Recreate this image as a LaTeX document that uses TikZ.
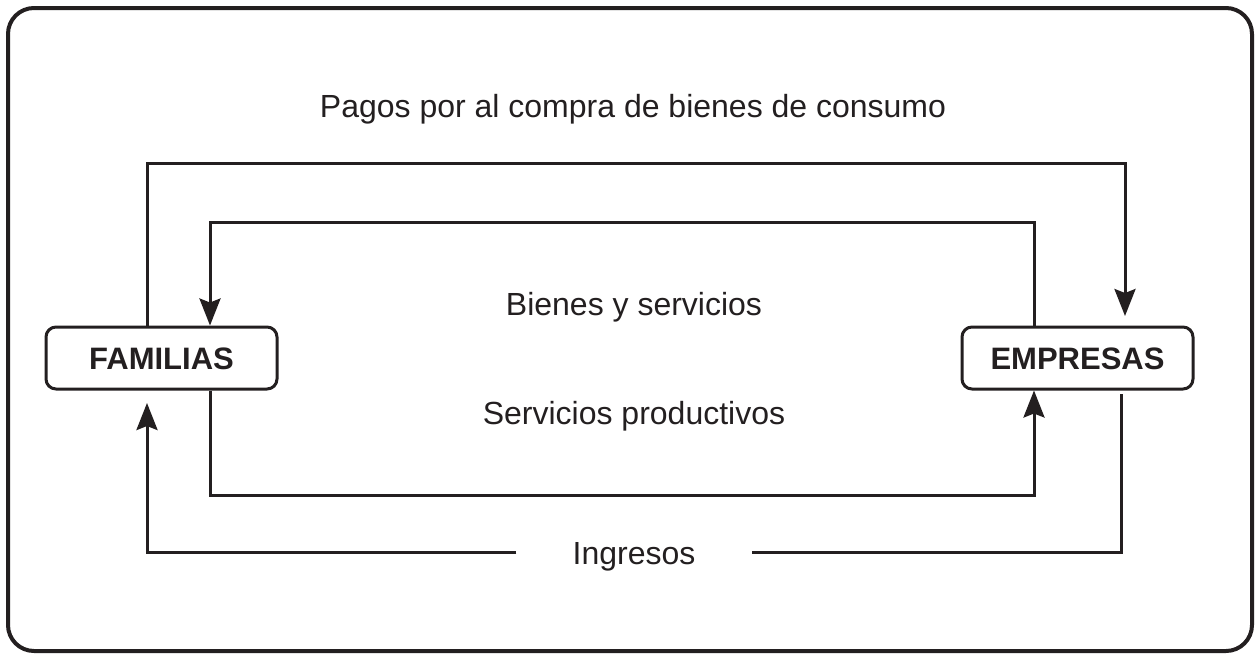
\documentclass[tikz,border=0pt]{standalone}
\usepackage{fontspec}
\setmainfont{Liberation Sans}
\usetikzlibrary{arrows.meta}
\definecolor{ink}{HTML}{231F20}
\tikzset{
  flow/.style={draw=ink, line width=3pt},
  arr/.style={flow, -{Stealth[length=27pt,width=21pt,inset=4pt]}},
  agent/.style={draw=ink, line width=3pt, rounded corners=10pt, minimum width=231pt, minimum height=62pt,
    text height=23pt, text depth=0pt, inner sep=0pt, font=\fontsize{31}{36}\selectfont\bfseries, text=ink},
  lbl/.style={text height=23pt, text depth=0pt, inner sep=0pt, font=\fontsize{32}{38}\selectfont, text=ink}
}
\begin{document}
\begin{tikzpicture}[x=1pt,y=-1pt]
\useasboundingbox (0,0) rectangle (1259,657);
\draw[ink, line width=4pt, rounded corners=26pt] (8,8) rectangle (1252,651);

\node[agent] (fam) at (161.5,358) {FAMILIAS};
\node[agent] (emp) at (1077.5,358) {EMPRESAS};

\node[lbl] (pagos) at (633,106) {Pagos por al compra de bienes de consumo};
\node[lbl] (bys) at (634,304) {Bienes y servicios};
\node[lbl] (sp) at (634,413) {Servicios productivos};
\node[lbl, inner xsep=56pt] (ing) at (634,552.5) {Ingresos};

\coordinate (t1) at (147,163);
\coordinate (t2) at (1125,163);
\coordinate (a1) at (1125,316);
\coordinate (u1) at (1034,222);
\coordinate (u2) at (210,222);
\coordinate (d1) at (210,495);
\coordinate (d2) at (1034,495);
\coordinate (b1) at (1121,394);
\coordinate (b2) at (147,403);

\draw[arr] (fam.north -| t1) -- (t1) -- (t2) -- (a1);
\draw[arr] (emp.north -| u1) -- (u1) -- (u2) -- (fam.north -| u2);
\draw[arr] (fam.south -| d1) -- (d1) -- (d2) -- (emp.south -| d2);
\draw[flow] (b1) |- (ing.east);
\draw[arr] (ing.west) -| (b2);
\end{tikzpicture}
\end{document}
